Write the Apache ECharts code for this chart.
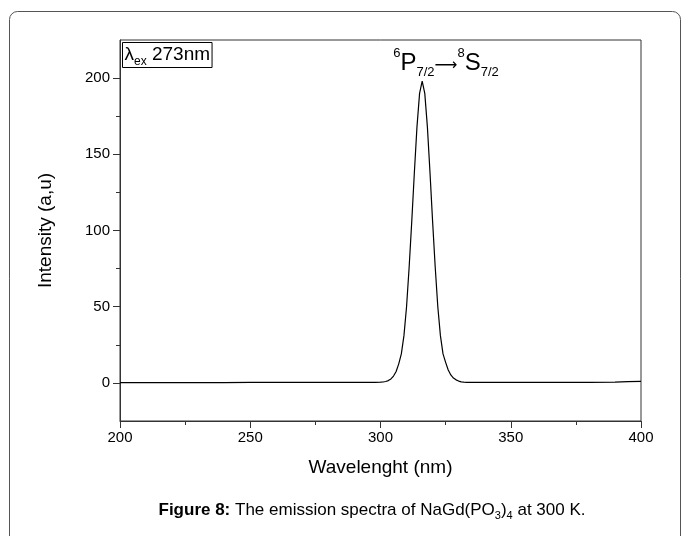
<!DOCTYPE html>
<html>
<head>
<meta charset="utf-8">
<script src="https://cdn.jsdelivr.net/npm/echarts@6/dist/echarts.min.js"></script>
<style>
html,body{margin:0;padding:0;background:#fff;}
#c{width:683px;height:536px;}
</style>
</head>
<body>
<div id="c"></div>
<script>
// Data
const wavelength = [200,210,220,230,240,250,260,270,280,290,295,298,300,301,302,303,304,305,306,307,308,309,310,311,312,313,314,315,316,317,318,319,320,321,322,323,324,325,326,327,328,329,330,331,332,333,335,340,345,350,360,370,380,390,395,400];
const intensity  = [0.2,0.2,0.2,0.2,0.2,0.3,0.3,0.3,0.4,0.4,0.4,0.4,0.5,0.6,0.9,1.5,2.6,4.5,7.5,12.5,19,31,50,76,106,138,168,190,198,190,168,138,106,76,50,31,19,13.5,8.5,5.2,3.2,2,1.2,0.7,0.5,0.4,0.3,0.3,0.3,0.3,0.3,0.3,0.4,0.5,0.8,1];
const xTicks = [200,250,300,350,400];
const yTicks = [0,50,100,150,200];
const yMinorTicks = [25,75,125,175];

const FONT = "'Liberation Sans Narrow','Liberation Sans',Arial,sans-serif";
const chart = echarts.init(document.getElementById('c'), null, {renderer:'canvas'});
const axisColor = '#333';
const option = {
  backgroundColor:'#fff',
  animation:false,
  grid:{left:120,right:42,top:40,bottom:115,show:true,borderColor:axisColor,borderWidth:1,backgroundColor:'transparent'},
  xAxis:[{
    type:'value',min:200,max:400,interval:50,
    name:'Wavelenght (nm)',nameLocation:'middle',nameGap:37,
    nameTextStyle:{fontFamily:FONT,fontSize:19,color:'#000'},
    axisLine:{show:true,onZero:false,lineStyle:{color:axisColor,width:1}},
    axisTick:{show:true,length:7,inside:false,lineStyle:{color:axisColor},customValues:xTicks},
    minorTick:{show:true,splitNumber:2,length:4,lineStyle:{color:axisColor}},
    axisLabel:{fontFamily:FONT,fontSize:15,color:'#000',margin:9,customValues:xTicks},
    splitLine:{show:false},minorSplitLine:{show:false}
  }],
  yAxis:[{
    type:'value',min:-25,max:225,interval:25,
    name:'Intensity (a,u)',nameLocation:'middle',nameGap:65,nameRotate:90,
    nameTextStyle:{fontFamily:FONT,fontSize:19,color:'#000'},
    axisLine:{show:true,onZero:false,lineStyle:{color:axisColor,width:1}},
    axisTick:{show:true,length:7,customValues:yTicks,lineStyle:{color:axisColor}},
    axisLabel:{fontFamily:FONT,fontSize:15,color:'#000',margin:10,customValues:yTicks},
    splitLine:{show:false}
  },{
    type:'value',min:-25,max:225,interval:25,position:'left',
    axisLine:{show:false,onZero:false},
    axisTick:{show:true,length:4,customValues:yMinorTicks,lineStyle:{color:axisColor}},
    axisLabel:{show:false},
    splitLine:{show:false}
  }],
  series:[{
    type:'line',
    data:wavelength.map((w,i)=>[w,intensity[i]]),
    showSymbol:false,symbol:'none',
    smooth:false,
    lineStyle:{color:'#000',width:1.2}
  }],
  graphic:[
    {type:'rect',shape:{x:9.5,y:11.5,width:671,height:540,r:8},style:{fill:'none',stroke:'#555',lineWidth:1},silent:true,z:-1},
    {type:'text',left:122,top:42,style:{
      text:'{l|λ}{e|ex}{n| 273nm}',
      rich:{
        l:{fontFamily:FONT,fontSize:19,fill:'#000',lineHeight:25},
        e:{fontFamily:FONT,fontSize:12,fill:'#000',verticalAlign:'bottom',lineHeight:25},
        n:{fontFamily:FONT,fontSize:19,fill:'#000',lineHeight:25}
      },
      borderColor:'#000',borderWidth:1,padding:[0,2,0,2]
    }},
    {type:'text',x:446,y:63,style:{
      text:'{p|6}{b|P}{s|7/2}{a|⟶}{p|8}{b|S}{s|7/2}',
      align:'center',verticalAlign:'middle',
      rich:{
        p:{fontFamily:FONT,fontSize:13,fill:'#000',verticalAlign:'top',lineHeight:32},
        b:{fontFamily:FONT,fontSize:24,fill:'#000',lineHeight:32},
        s:{fontFamily:FONT,fontSize:13,fill:'#000',verticalAlign:'bottom',lineHeight:32},
        a:{fontFamily:"'DejaVu Sans',sans-serif",fontSize:16,fill:'#000',lineHeight:32,padding:[6,0,0,0]}
      }
    }},
    {type:'text',x:372,y:510,style:{
      text:'{b|Figure 8:}{t| The emission spectra of NaGd(PO}{s|3}{t|)}{s|4}{t| at 300 K.}',
      align:'center',verticalAlign:'middle',
      rich:{
        b:{fontFamily:FONT,fontSize:17,fontWeight:'bold',fill:'#000',lineHeight:22},
        t:{fontFamily:FONT,fontSize:17,fill:'#000',lineHeight:22},
        s:{fontFamily:FONT,fontSize:11,fill:'#000',verticalAlign:'bottom',lineHeight:22}
      }
    }}
  ]
};
chart.setOption(option);
</script>
</body>
</html>
